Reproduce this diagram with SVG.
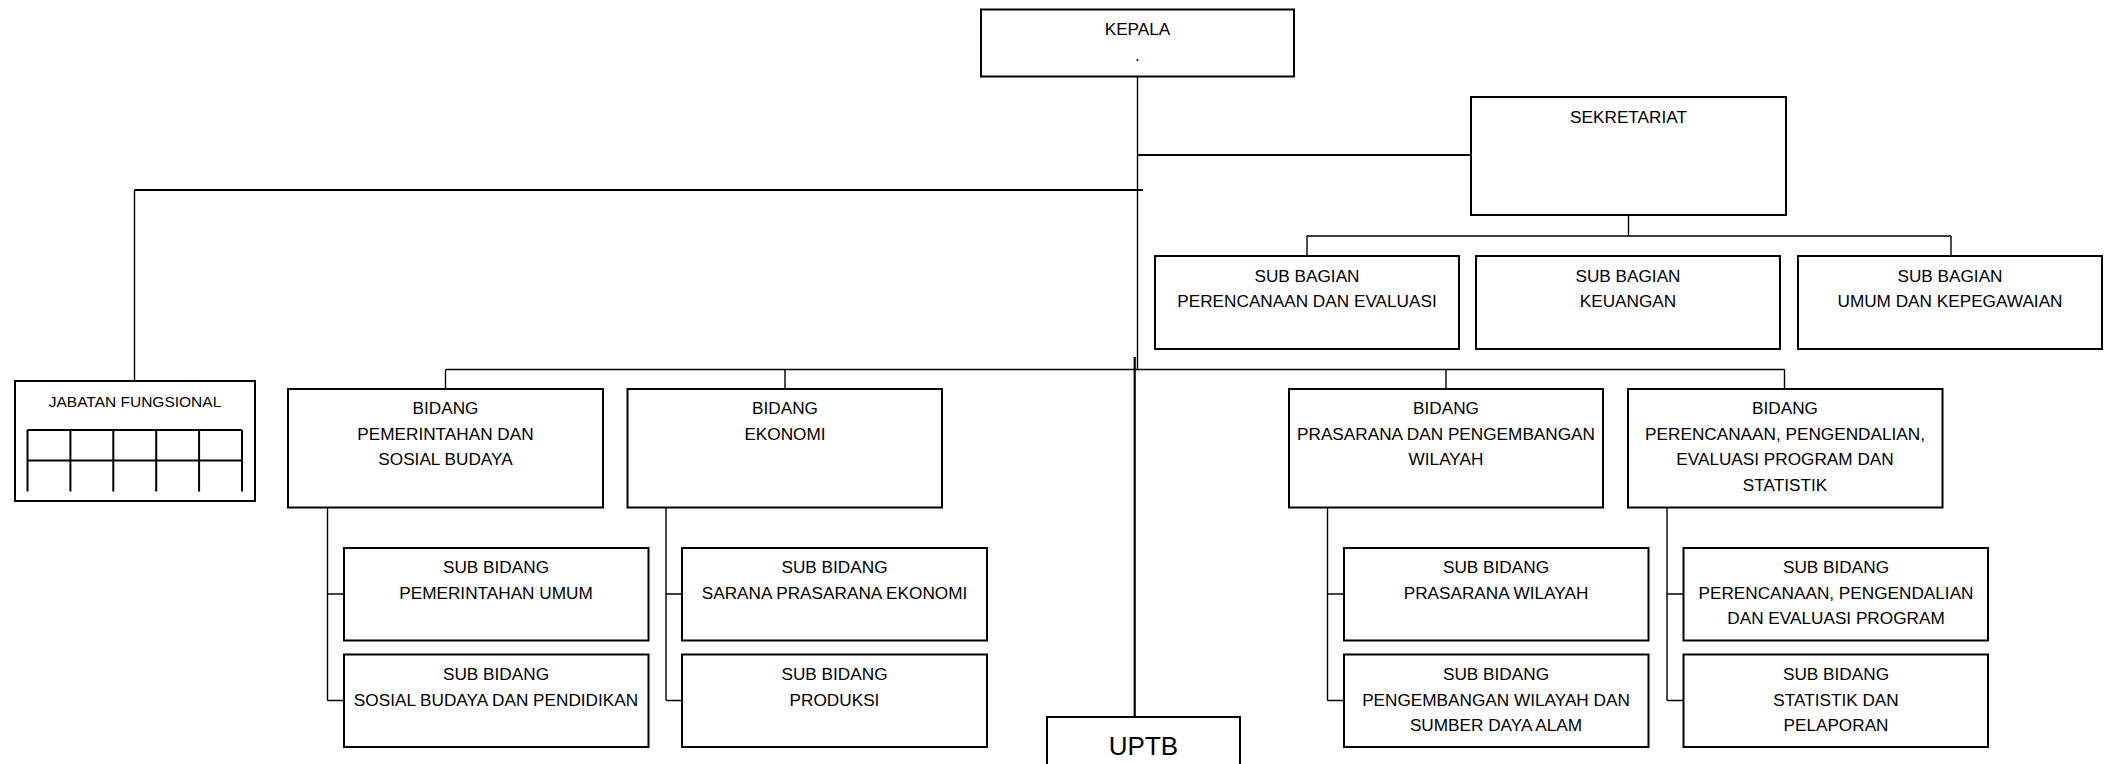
<svg xmlns="http://www.w3.org/2000/svg" width="2105" height="764" viewBox="0 0 2105 764">
<style>
.box{fill:#fff;stroke:#000;stroke-width:2}
.t{font-family:"Liberation Sans",Arial,sans-serif;font-size:17.2px;fill:#000;text-anchor:middle}
.c{fill:none;stroke:#000;stroke-width:1.4}
.ct{fill:none;stroke:#000;stroke-width:2.2}
</style>
<rect x="0" y="0" width="2105" height="764" fill="#fff"/>
<g id="connectors">
<path class="c" d="M1137.5 76.5V369.5"/>
<path class="ct" d="M1137.5 155H1471"/>
<path class="ct" d="M134.5 190H1143"/>
<path class="c" d="M134.5 190V381"/>
<path class="c" d="M1628.5 215V236M1307 236H1951M1307 236V256M1951 236V256"/>
<path class="c" d="M445.5 369.5H1784.5M445.5 369.5V389M785 369.5V389M1446 369.5V389M1784.5 369.5V389"/>
<path class="ct" d="M1134.7 357V717"/>
<path class="c" d="M327.5 507.5V700.5M327.5 594H344M327.5 700.5H344"/>
<path class="c" d="M666 507.5V700.5M666 594H682M666 700.5H682"/>
<path class="c" d="M1327.5 507.5V700.5M1327.5 594H1344M1327.5 700.5H1344"/>
<path class="c" d="M1667 507.5V700.5M1667 594H1683.5M1667 700.5H1683.5"/>
</g>
<g id="kepala">
<rect class="box" x="981" y="9.5" width="313" height="67"/>
<text class="t" x="1137.5" y="35">KEPALA</text>
<text class="t" x="1137.5" y="61">.</text>
</g>
<g id="sekretariat">
<rect class="box" x="1471" y="97" width="315" height="118"/>
<text class="t" x="1628.5" y="123">SEKRETARIAT</text>
</g>
<g id="subbag-perencanaan">
<rect class="box" x="1155" y="256" width="304" height="93"/>
<text class="t" x="1307" y="281.5">SUB BAGIAN</text>
<text class="t" x="1307" y="307">PERENCANAAN DAN EVALUASI</text>
</g>
<g id="subbag-keuangan">
<rect class="box" x="1476" y="256" width="304" height="93"/>
<text class="t" x="1628" y="281.5">SUB BAGIAN</text>
<text class="t" x="1628" y="307">KEUANGAN</text>
</g>
<g id="subbag-umum">
<rect class="box" x="1798" y="256" width="304" height="93"/>
<text class="t" x="1950" y="281.5">SUB BAGIAN</text>
<text class="t" x="1950" y="307">UMUM DAN KEPEGAWAIAN</text>
</g>
<g id="jabatan-fungsional">
<rect class="box" x="15" y="381" width="240" height="120"/>
<text class="t" x="135" y="407" style="font-size:15.5px">JABATAN FUNGSIONAL</text>
<path fill="none" stroke="#000" stroke-width="2" d="M27.5 430H242M27.5 460.5H242M27.5 430V491.5M70.4 430V491.5M113.3 430V491.5M156.2 430V491.5M199.1 430V491.5M242 430V491.5"/>
</g>
<g id="bidang-pemerintahan">
<rect class="box" x="288" y="389" width="315" height="118.5"/>
<text class="t" x="445.5" y="414">BIDANG</text>
<text class="t" x="445.5" y="440">PEMERINTAHAN DAN</text>
<text class="t" x="445.5" y="465">SOSIAL BUDAYA</text>
</g>
<g id="bidang-ekonomi">
<rect class="box" x="627.5" y="389" width="314.5" height="118.5"/>
<text class="t" x="785" y="414">BIDANG</text>
<text class="t" x="785" y="440">EKONOMI</text>
</g>
<g id="bidang-prasarana">
<rect class="box" x="1289" y="389" width="314" height="118.5"/>
<text class="t" x="1446" y="414">BIDANG</text>
<text class="t" x="1446" y="440">PRASARANA DAN PENGEMBANGAN</text>
<text class="t" x="1446" y="465">WILAYAH</text>
</g>
<g id="bidang-perencanaan">
<rect class="box" x="1628" y="389" width="314.5" height="118.5"/>
<text class="t" x="1785" y="414">BIDANG</text>
<text class="t" x="1785" y="440">PERENCANAAN, PENGENDALIAN,</text>
<text class="t" x="1785" y="465">EVALUASI PROGRAM DAN</text>
<text class="t" x="1785" y="491">STATISTIK</text>
</g>
<g id="subbid-pemerintahan-umum">
<rect class="box" x="344" y="548" width="304.5" height="92.5"/>
<text class="t" x="496" y="573">SUB BIDANG</text>
<text class="t" x="496" y="598.5">PEMERINTAHAN UMUM</text>
</g>
<g id="subbid-sosial-budaya">
<rect class="box" x="344" y="654.5" width="304.5" height="92.5"/>
<text class="t" x="496" y="680">SUB BIDANG</text>
<text class="t" x="496" y="705.5">SOSIAL BUDAYA DAN PENDIDIKAN</text>
</g>
<g id="subbid-sarana">
<rect class="box" x="682" y="548" width="305" height="92.5"/>
<text class="t" x="834.5" y="573">SUB BIDANG</text>
<text class="t" x="834.5" y="598.5">SARANA PRASARANA EKONOMI</text>
</g>
<g id="subbid-produksi">
<rect class="box" x="682" y="654.5" width="305" height="92.5"/>
<text class="t" x="834.5" y="680">SUB BIDANG</text>
<text class="t" x="834.5" y="705.5">PRODUKSI</text>
</g>
<g id="subbid-prasarana-wilayah">
<rect class="box" x="1344" y="548" width="304.5" height="92.5"/>
<text class="t" x="1496" y="573">SUB BIDANG</text>
<text class="t" x="1496" y="598.5">PRASARANA WILAYAH</text>
</g>
<g id="subbid-pengembangan">
<rect class="box" x="1344" y="654.5" width="304.5" height="92.5"/>
<text class="t" x="1496" y="680">SUB BIDANG</text>
<text class="t" x="1496" y="705.5">PENGEMBANGAN WILAYAH DAN</text>
<text class="t" x="1496" y="731">SUMBER DAYA ALAM</text>
</g>
<g id="subbid-perencanaan">
<rect class="box" x="1683.5" y="548" width="304.5" height="92.5"/>
<text class="t" x="1836" y="573">SUB BIDANG</text>
<text class="t" x="1836" y="598.5">PERENCANAAN, PENGENDALIAN</text>
<text class="t" x="1836" y="624">DAN EVALUASI PROGRAM</text>
</g>
<g id="subbid-statistik">
<rect class="box" x="1683.5" y="654.5" width="304.5" height="92.5"/>
<text class="t" x="1836" y="680">SUB BIDANG</text>
<text class="t" x="1836" y="705.5">STATISTIK DAN</text>
<text class="t" x="1836" y="731">PELAPORAN</text>
</g>
<g id="uptb">
<rect class="box" x="1047" y="717" width="193" height="60"/>
<text class="t" x="1143.5" y="754.5" style="font-size:26px">UPTB</text>
</g>
</svg>
